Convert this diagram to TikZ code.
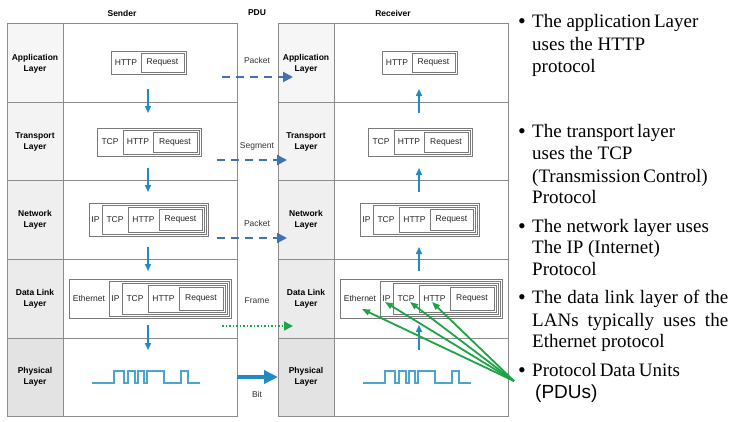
\documentclass[tikz,border=0pt]{standalone}
\usepackage{fontspec}
\setmainfont{Liberation Serif}
\setsansfont{Liberation Sans}
\usetikzlibrary{arrows.meta}
\definecolor{vblue}{HTML}{1E8BC3}
\definecolor{dblue}{HTML}{3F72B5}
\definecolor{wblue}{HTML}{4AA6CC}
\definecolor{dgreen}{HTML}{1FA347}
\definecolor{tline}{HTML}{8C8C8C}
\definecolor{bline}{HTML}{7A7A7A}
\definecolor{labA}{HTML}{F6F6F6}
\definecolor{labB}{HTML}{F3F3F3}
\definecolor{labC}{HTML}{EFEFEF}
\definecolor{labD}{HTML}{EBEBEB}
\definecolor{labE}{HTML}{E3E3E3}
\tikzset{
 tbl/.style={draw=tline, line width=0.9pt},
 bx/.style={draw=bline, line width=0.7pt},
 lay/.style={font=\sffamily\bfseries\fontsize{8.5}{11}\selectfont, align=center, inner sep=0pt},
 pk/.style={font=\sffamily\fontsize{8.5}{10}\selectfont, inner sep=0pt, text=black!85},
 hdr/.style={font=\sffamily\bfseries\fontsize{8.5}{10}\selectfont, inner sep=0pt},
 pdu/.style={font=\sffamily\fontsize{8.5}{10}\selectfont, inner sep=0pt, text=black!80},
 vflow/.style={draw=vblue, line width=1.6pt, -{Triangle[length=7pt,width=6pt]}},
 dflow/.style={draw=dblue, line width=2pt, dash pattern=on 8pt off 6pt, -{Triangle[length=10pt,width=10pt]}},
 gdot/.style={draw=dgreen, line width=1.6pt, dash pattern=on 1.5pt off 2pt, -{Triangle[length=9pt,width=9pt]}},
 bitarrow/.style={draw=vblue, line width=4pt, -{Triangle[length=14pt,width=13pt]}},
 garrow/.style={draw=dgreen, line width=1.8pt, -{Triangle[length=8pt,width=6pt]}},
 wave/.style={draw=wblue, line width=1.5pt},
 bul/.style={font=\rmfamily\fontsize{19}{22}\selectfont, inner sep=0pt, anchor=base west},
 dot/.style={font=\rmfamily\fontsize{22}{22}\selectfont, inner sep=0pt, anchor=base},
}
\newcommand\drawside[2]{%
\begin{scope}[xshift=#2]
 \fill[labA] (7,23) rectangle (63,102);
 \fill[labB] (7,102) rectangle (63,180);
 \fill[labC] (7,180) rectangle (63,259);
 \fill[labD] (7,259) rectangle (63,338);
 \fill[labE] (7,338) rectangle (63,416);
 \draw[tbl] (7,23) rectangle (237,416);
 \draw[tbl] (63,23) -- (63,416);
 \foreach \yy in {102,180,259,338} {\draw[tbl] (7,\yy) -- (237,\yy);}
 \node[lay] (#1Lapp) at (35,63.5) {Application\\Layer};
 \node[lay] (#1Ltra) at (35,141.5) {Transport\\Layer};
 \node[lay] (#1Lnet) at (35,219.5) {Network\\Layer};
 \node[lay] (#1Ldl) at (35,298.5) {Data Link\\Layer};
 \node[lay] (#1Lphy) at (35,377) {Physical\\Layer};
 % application
 \draw[bx] (111,51) rectangle (186,74);
 \draw[bx] (141,53) rectangle (184,72);
 \node[pk] (#1Ahttp) at (126,62.5) {HTTP};
 \node[pk] (#1Areq) at (162.5,62.5) {Request};
 % transport
 \draw[bx] (97,128) rectangle (201,156);
 \draw[bx] (123,130) rectangle (199,154);
 \draw[bx] (153,132) rectangle (197,152);
 \node[pk] (#1Ttcp) at (110,142) {TCP};
 \node[pk] (#1Thttp) at (138,142) {HTTP};
 \node[pk] (#1Treq) at (175,142) {Request};
 % network
 \draw[bx] (89,203) rectangle (208,236);
 \draw[bx] (102,205) rectangle (206,234);
 \draw[bx] (128,207) rectangle (204,232);
 \draw[bx] (159,209) rectangle (202,230);
 \node[pk] (#1Nip) at (95.5,219.5) {IP};
 \node[pk] (#1Ntcp) at (115,219.5) {TCP};
 \node[pk] (#1Nhttp) at (143.5,219.5) {HTTP};
 \node[pk] (#1Nreq) at (180.5,219.5) {Request};
 % data link
 \draw[bx] (69,279) rectangle (231,318);
 \draw[bx] (109,281) rectangle (229,316);
 \draw[bx] (122,283) rectangle (227,314);
 \draw[bx] (148,285) rectangle (225,312);
 \draw[bx] (179,287) rectangle (223,310);
 \node[pk] (#1Deth) at (89,298.5) {Ethernet};
 \node[pk] (#1Dip) at (115.5,298.5) {IP};
 \node[pk] (#1Dtcp) at (135,298.5) {TCP};
 \node[pk] (#1Dhttp) at (163.5,298.5) {HTTP};
 \node[pk] (#1Dreq) at (201,298.5) {Request};
 % physical wave
 \draw[wave] (92,383) -- (114,383) -- (114,371) -- (124,371) -- (124,383) -- (128,383)
   -- (128,371) -- (135,371) -- (135,383) -- (138,383) -- (138,371) -- (144,371)
   -- (144,383) -- (147,383) -- (147,371) -- (164,371) -- (164,383) -- (181,383)
   -- (181,371) -- (188,371) -- (188,383) -- (200,383);
 % arrow end points
 \coordinate (#1a1) at (148,89);  \coordinate (#1b1) at (148,113);
 \coordinate (#1a2) at (148,168); \coordinate (#1b2) at (148,192);
 \coordinate (#1a3) at (148,247); \coordinate (#1b3) at (148,271);
 \coordinate (#1a4) at (148,325); \coordinate (#1b4) at (148,350);
\end{scope}}
\begin{document}
\begin{tikzpicture}[x=1pt,y=-1pt]
\useasboundingbox (0,0) rectangle (731,421);
\fill[white] (0,0) rectangle (731,421);
\drawside{s}{0pt}
\drawside{r}{271pt}
% headers
\node[hdr] (hS) at (122,13) {Sender};
\node[hdr] (hP) at (257,13) {PDU};
\node[hdr] (hR) at (393,13) {Receiver};
% vertical flows
\foreach \i in {1,2,3,4} {
  \draw[vflow] (sa\i) -- (sb\i);
  \draw[vflow] (rb\i) -- (ra\i);
}
% PDU labels
\node[pdu] (p1) at (257,60) {Packet};
\node[pdu] (p2) at (257,146) {Segment};
\node[pdu] (p3) at (257,223) {Packet};
\node[pdu] (p4) at (257,301) {Frame};
\node[pdu] (p5) at (257,394) {Bit};
% PDU arrows
\coordinate (d1s) at (222,77);  \coordinate (d1e) at (293,77);
\coordinate (d2s) at (217,160); \coordinate (d2e) at (287,160);
\coordinate (d3s) at (217,238); \coordinate (d3e) at (287,238);
\coordinate (d4s) at (222,326); \coordinate (d4e) at (293,326);
\coordinate (d5s) at (237,377); \coordinate (d5e) at (278,377);
\draw[dflow] (d1s) -- (d1e);
\draw[dflow] (d2s) -- (d2e);
\draw[dflow] (d3s) -- (d3e);
\draw[gdot] (d4s) -- (d4e);
\draw[bitarrow] (d5s) -- (d5e);
% green pointers
\coordinate (gP) at (514,381);
\coordinate (gE) at (362,309);
\coordinate (gI) at (385,302);
\coordinate (gT) at (410,302);
\coordinate (gH) at (432,302);
\draw[garrow] (gP) -- (gE);
\draw[garrow] (gP) -- (gI);
\draw[garrow] (gP) -- (gT);
\draw[garrow] (gP) -- (gH);
% bullets
\node[dot] (b1) at (522,28.5) {•};
\node[bul] (t11) at (532,27) {The application\,Layer};
\node[bul] (t12) at (532,50) {uses the HTTP};
\node[bul] (t13) at (532,72) {protocol};
\node[dot] (b2) at (522,138.5) {•};
\node[bul] (t21) at (532,137) {The transport\,layer};
\node[bul] (t22) at (532,159) {uses the TCP};
\node[bul] (t23) at (532,182) {(Transmission\,Control)};
\node[bul] (t24) at (532,203) {Protocol};
\node[dot] (b3) at (522,233.5) {•};
\node[bul] (t31) at (532,232) {The network layer uses};
\node[bul] (t32) at (532,253) {The IP (Internet)};
\node[bul] (t33) at (532,275) {Protocol};
\node[dot] (b4) at (522,304.5) {•};
\node[bul] (t41) at (532,303) {\makebox[196pt][s]{The data link layer of the}};
\node[bul] (t42) at (532,326) {\makebox[196pt][s]{LANs typically uses the}};
\node[bul] (t43) at (532,347) {Ethernet protocol};
\node[dot] (b5) at (522,377.5) {•};
\node[bul] (t51) at (532,376) {Protocol\,Data\,Units};
\node[bul, font=\sffamily\fontsize{19}{22}\selectfont] (t52) at (535,398) {(PDUs)};
\end{tikzpicture}
\end{document}
